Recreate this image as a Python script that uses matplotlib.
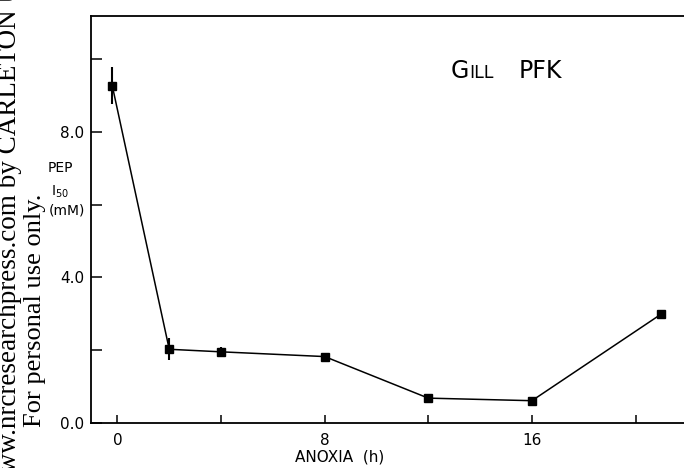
import matplotlib
matplotlib.use('Agg')
import matplotlib.pyplot as plt
from matplotlib.ticker import FixedFormatter, FixedLocator

# PFK I50 for PEP in gill vs. hours of anoxia
hours = [-0.2, 2, 4, 8, 12, 16, 21]
i50 = [9.26, 2.03, 1.96, 1.83, 0.69, 0.62, 3.0]
i50_err = [0.5, 0.3, 0.13, 0, 0, 0, 0]

W, H = 684, 468
fig = plt.figure(figsize=(W / 100, H / 100), dpi=100)
ax = fig.add_axes([91 / W, 1 - 423.3 / H, 1 - 91 / W, (423.3 - 16) / H])

ax.errorbar(hours, i50, yerr=i50_err, color='black', lw=1.1, elinewidth=1.5,
            capsize=0, marker='s', ms=5.5, mfc='black', mec='black')

ax.set_xlim(-1.02, 21.87)
ax.set_ylim(0, 11.17)
ax.spines['right'].set_visible(False)
for s in ['left', 'bottom', 'top']:
    ax.spines[s].set_linewidth(1.3)

ax.xaxis.set_major_locator(FixedLocator([0, 8, 16]))
ax.xaxis.set_minor_locator(FixedLocator([4, 12, 20]))
ax.yaxis.set_major_locator(FixedLocator([0, 4, 8]))
ax.yaxis.set_major_formatter(FixedFormatter(['0.0', '4.0', '8.0']))
ax.yaxis.set_minor_locator(FixedLocator([2, 6, 10]))
ax.tick_params(which='both', direction='in', width=1.1, labelsize=11)
ax.tick_params(axis='x', which='both', length=6, pad=7, top=False)
ax.tick_params(axis='y', which='both', length=8, pad=5, right=False)

ax.set_xlabel('ANOXIA  (h)', fontsize=11)
ax.xaxis.set_label_coords((340 - 91) / (W - 91), -0.065)

# y label drawn as stacked pieces like the original
fig.text(48 / W, 1 - 168 / H, 'PEP', fontsize=10, va='center', ha='left')
fig.text(51 / W, 1 - 192 / H, 'I$_{50}$', fontsize=10, va='center', ha='left')
fig.text(49 / W, 1 - 211 / H, '(mM)', fontsize=10, va='center', ha='left')

# panel title with small caps
fig.text(451 / W, 1 - 78 / H, 'G', fontsize=17, va='baseline', ha='left')
fig.text(469 / W, 1 - 78 / H, 'ILL', fontsize=12.5, va='baseline', ha='left')
fig.text(519 / W, 1 - 78 / H, 'PFK', fontsize=17, va='baseline', ha='left')

# journal watermark along the left edge
fig.text(10 / W, -24 / H, 'www.nrcresearchpress.com by CARLETON UNIVERSITY',
         rotation=90, rotation_mode='anchor', ha='left', va='center',
         family='Liberation Serif', fontsize=19.5)
fig.text(35 / W, 1 - 427 / H, 'For personal use only.', rotation=90,
         rotation_mode='anchor', ha='left', va='center',
         family='Liberation Serif', fontsize=19)

fig.savefig('out.png', dpi=100)
